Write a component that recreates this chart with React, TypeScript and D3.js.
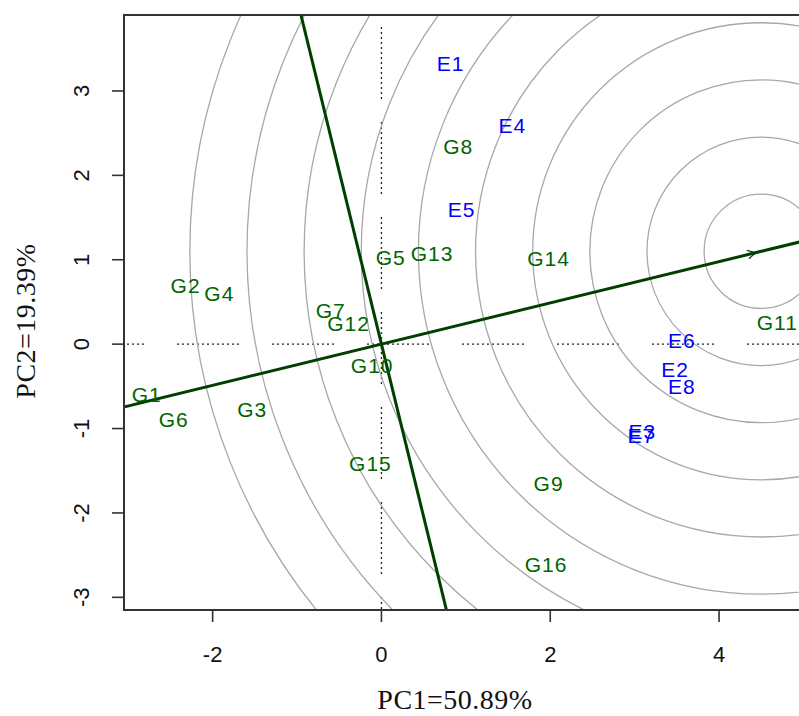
import React from 'react';
import * as d3 from 'd3';

// genotype labels (green) and environment labels (blue), biplot coords
const genotypes = ['G1', 'G2', 'G3', 'G4', 'G5', 'G6', 'G7', 'G8', 'G9', 'G10', 'G11', 'G12', 'G13', 'G14', 'G15', 'G16'];
const genoPC1 = [-2.78, -2.32, -1.53, -1.92, 0.11, -2.46, -0.6, 0.91, 1.98, -0.11, 4.69, -0.39, 0.6, 1.98, -0.13, 1.95];
const genoPC2 = [-0.6, 0.7, -0.77, 0.6, 1.03, -0.89, 0.4, 2.34, -1.65, -0.25, 0.26, 0.25, 1.07, 1.01, -1.41, -2.61];

const environments = ['E1', 'E2', 'E3', 'E4', 'E5', 'E6', 'E7', 'E8'];
const envPC1 = [0.82, 3.48, 3.09, 1.55, 0.95, 3.56, 3.08, 3.56];
const envPC2 = [3.33, -0.3, -1.04, 2.59, 1.6, 0.04, -1.08, -0.5];

// ideal point (circle centre, end of the average axis) and ring step
const idealPoint = [4.5, 1.1];
const ringStep = 0.677;
const ringCount = [1, 2, 3, 4, 5, 6, 7, 8, 9, 10];

const xTicks = [-2, 0, 2, 4];
const yTicks = [-3, -2, -1, 0, 1, 2, 3];

const W = 799;
const H = 716;
const plot = { left: 124, top: 15, right: 806, bottom: 610 };

const GREEN = '#006400';
const LINE = '#003f00';

function dotPattern(dots: number, gap: number) {
  const arr: number[] = [];
  for (let i = 0; i < dots; i++) {
    arr.push(2);
    arr.push(i === dots - 1 ? gap : 3);
  }
  return arr.join(',');
}

export default function App() {
  const x = d3.scaleLinear().domain([-3.05, 5.03]).range([plot.left, plot.right]);
  const y = d3.scaleLinear().domain([-3.15, 3.9]).range([plot.bottom, plot.top]);

  const [ix, iy] = idealPoint;
  // average environment axis, through the origin and the ideal point
  const aea = d3.line<number>()
    .x(t => x(t * ix))
    .y(t => y(t * iy));
  // perpendicular axis through the origin
  const perp = d3.line<number>()
    .x(t => x(-t * iy))
    .y(t => y(t * ix));

  // arrow head at the ideal point
  const tipX = x(ix * 0.985);
  const tipY = y(iy * 0.985);
  const ang = Math.atan2(tipY - y(0), tipX - x(0));
  const headLen = 9;
  const head = [ang + Math.PI - 0.5, ang + Math.PI + 0.5].map(a => [tipX + headLen * Math.cos(a), tipY + headLen * Math.sin(a)]);

  const labelFont = { fontFamily: 'Liberation Sans, Arial, sans-serif', fontSize: 21, letterSpacing: 1 };
  const tickFont = { fontFamily: 'Liberation Sans, Arial, sans-serif', fontSize: 22 };
  const titleFont = { fontFamily: 'Liberation Serif, Times New Roman, serif', fontSize: 28, letterSpacing: 0.5 };

  return (
    <svg width={W} height={H} style={{ position: 'absolute', left: 0, top: 0, background: '#fff' }}>
      <defs>
        <clipPath id="plotClip">
          <rect x={plot.left} y={plot.top} width={plot.right - plot.left} height={plot.bottom - plot.top} />
        </clipPath>
      </defs>

      <g clipPath="url(#plotClip)">
        {/* dotted reference lines */}
        <line x1={plot.left} x2={plot.right} y1={y(0)} y2={y(0)} stroke="#222" strokeWidth={1.3}
          strokeDasharray={dotPattern(13, 33)} strokeDashoffset={42} />
        <line x1={x(0)} x2={x(0)} y1={plot.top} y2={plot.bottom} stroke="#222" strokeWidth={1.3}
          strokeDasharray={dotPattern(15, 23)} strokeDashoffset={83} />

        {/* concentric rings round the ideal point */}
        {ringCount.map(k => (
          <ellipse key={k} cx={x(ix)} cy={y(iy)} rx={x(k * ringStep) - x(0)} ry={y(0) - y(k * ringStep)}
            fill="none" stroke="#a8a8a8" strokeWidth={1.3} />
        ))}

        <path d={aea([-2, 2]) || ''} stroke={LINE} strokeWidth={3} fill="none" />
        <path d={perp([-1.5, 1.5]) || ''} stroke={LINE} strokeWidth={3} fill="none" />
        <polyline points={`${head[0][0]},${head[0][1]} ${tipX},${tipY} ${head[1][0]},${head[1][1]}`}
          fill="none" stroke={LINE} strokeWidth={1.2} />

        {genotypes.map((g, i) => (
          <text key={g} x={x(genoPC1[i])} y={y(genoPC2[i])} dy="0.36em" textAnchor="middle" fill={GREEN} {...labelFont}>{g}</text>
        ))}
        {environments.map((e, i) => (
          <text key={e} x={x(envPC1[i])} y={y(envPC2[i])} dy="0.36em" textAnchor="middle" fill="#0000ff" {...labelFont}>{e}</text>
        ))}
      </g>

      {/* frame */}
      <rect x={plot.left} y={plot.top} width={plot.right - plot.left} height={plot.bottom - plot.top}
        fill="none" stroke="#333" strokeWidth={2} />

      {/* x axis */}
      {xTicks.map(t => (
        <g key={t}>
          <line x1={x(t)} x2={x(t)} y1={plot.bottom} y2={plot.bottom + 12} stroke="#333" strokeWidth={1.6} />
          <text x={x(t)} y={662} textAnchor="middle" fill="#111" {...tickFont}>{t}</text>
        </g>
      ))}
      {/* y axis */}
      {yTicks.map(t => (
        <g key={t}>
          <line x1={plot.left - 12} x2={plot.left} y1={y(t)} y2={y(t)} stroke="#333" strokeWidth={1.6} />
          <text transform={`translate(89,${y(t)}) rotate(-90)`} textAnchor="middle" fill="#111" {...tickFont}>{t}</text>
        </g>
      ))}

      <text x={455} y={709} textAnchor="middle" fill="#111" {...titleFont}>PC1=50.89%</text>
      <text transform={`translate(35,321) rotate(-90)`} textAnchor="middle" fill="#111" {...titleFont}>PC2=19.39%</text>
    </svg>
  );
}
